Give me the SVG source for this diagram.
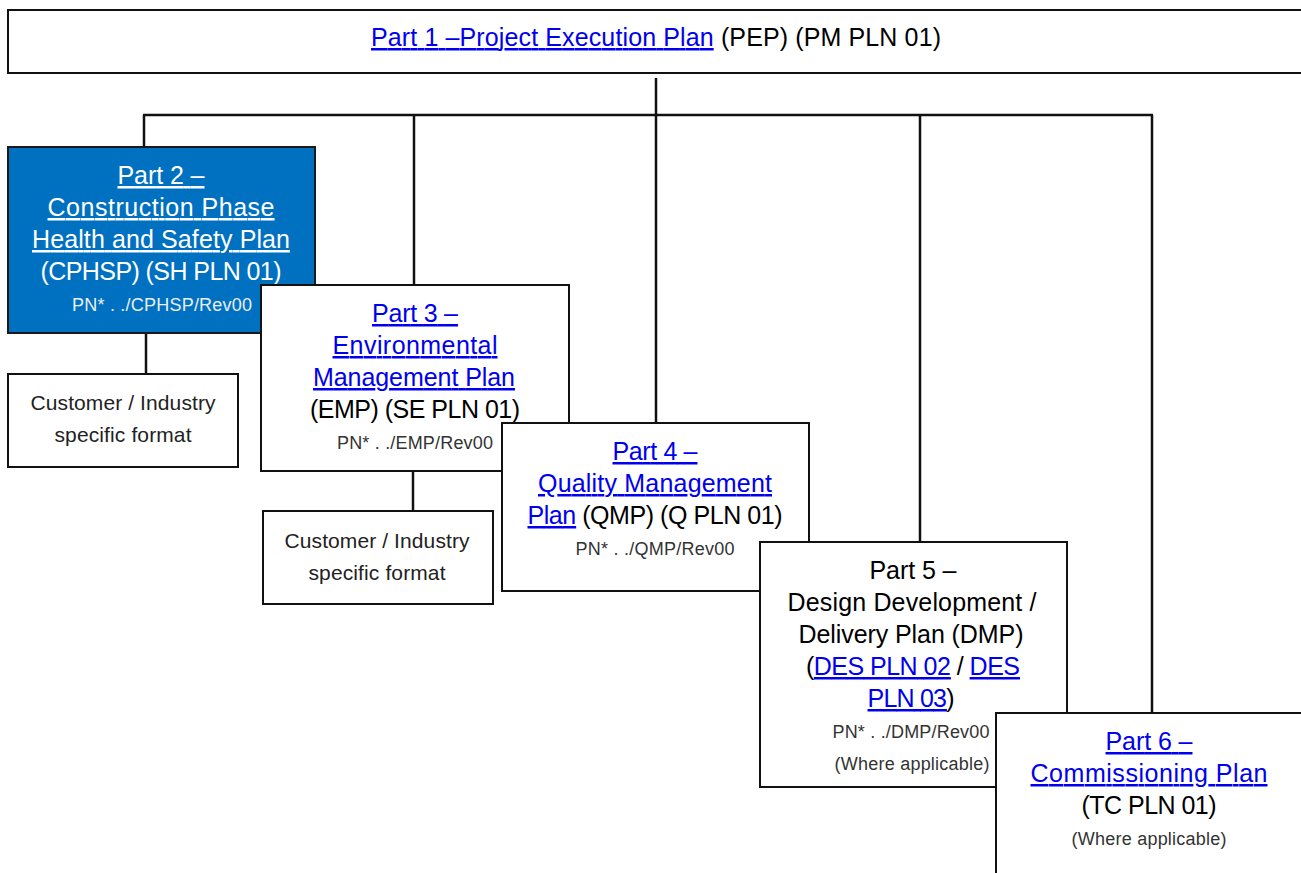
<svg xmlns="http://www.w3.org/2000/svg" width="1301" height="873" viewBox="0 0 1301 873">
<style>
.box{fill:#fff;stroke:#111;stroke-width:2}
.blue{fill:#0070C0;stroke:#1a1a1a;stroke-width:2}
.conn{stroke:#111;stroke-width:2.5;fill:none}
text{font-family:"Liberation Sans",Arial,sans-serif;text-anchor:middle}
.m{font-size:25px;fill:#000}
.s{font-size:18px;fill:#333}
.c{font-size:21px;fill:#222}
.lk{fill:#0000EE;text-decoration:underline}
.w{fill:#fff}
.wu{fill:#fff;text-decoration:underline}
</style>
<g id="part1">
<rect class="box" x="8" y="10" width="1300" height="63"/>
<text class="m" x="656" y="46" textLength="570" lengthAdjust="spacing"><tspan class="lk">Part 1 –Project Execution Plan</tspan> (PEP) (PM PLN 01)</text>
</g>
<g id="connectors">
<line class="conn" x1="656" y1="78" x2="656" y2="115"/>
<line class="conn" x1="143" y1="115" x2="1153" y2="115"/>
<line class="conn" x1="144" y1="115" x2="144" y2="148"/>
<line class="conn" x1="414" y1="115" x2="414" y2="286"/>
<line class="conn" x1="656" y1="115" x2="656" y2="424"/>
<line class="conn" x1="920" y1="115" x2="920" y2="543"/>
<line class="conn" x1="1152" y1="115" x2="1152" y2="714"/>
<line class="conn" x1="146" y1="333" x2="146" y2="375"/>
<line class="conn" x1="413" y1="471" x2="413" y2="512"/>
</g>
<g id="part2">
<rect class="blue" x="8" y="147" width="307" height="186"/>
<text class="m" x="161" y="184" textLength="87" lengthAdjust="spacing"><tspan class="wu">Part 2 –</tspan></text>
<text class="m" x="161" y="216" textLength="227" lengthAdjust="spacing"><tspan class="wu">Construction Phase</tspan></text>
<text class="m" x="161" y="248" textLength="258" lengthAdjust="spacing"><tspan class="wu">Health and Safety Plan</tspan></text>
<text class="m w" x="161" y="280" textLength="241" lengthAdjust="spacing">(CPHSP) (SH PLN 01)</text>
<text class="s w" x="162" y="311" textLength="180" lengthAdjust="spacing" style="fill:#e8eef5">PN* . ./CPHSP/Rev00</text>
</g>
<g id="customer1">
<rect class="box" x="8" y="374" width="230" height="93"/>
<text class="c" x="123" y="410" textLength="185" lengthAdjust="spacing">Customer / Industry</text>
<text class="c" x="123" y="442" textLength="137" lengthAdjust="spacing">specific format</text>
</g>
<g id="part3">
<rect class="box" x="261" y="285" width="308" height="186"/>
<text class="m" x="415" y="322" textLength="86" lengthAdjust="spacing"><tspan class="lk">Part 3 –</tspan></text>
<text class="m" x="415" y="354" textLength="165" lengthAdjust="spacing"><tspan class="lk">Environmental</tspan></text>
<text class="m" x="414" y="386" textLength="202" lengthAdjust="spacing"><tspan class="lk">Management Plan</tspan></text>
<text class="m" x="415" y="418" textLength="210" lengthAdjust="spacing">(EMP) (SE PLN 01)</text>
<text class="s" x="415" y="449" textLength="156" lengthAdjust="spacing">PN* . ./EMP/Rev00</text>
</g>
<g id="customer2">
<rect class="box" x="263" y="511" width="230" height="93"/>
<text class="c" x="377" y="548" textLength="185" lengthAdjust="spacing">Customer / Industry</text>
<text class="c" x="377" y="580" textLength="137" lengthAdjust="spacing">specific format</text>
</g>
<g id="part4">
<rect class="box" x="502" y="423" width="307" height="168"/>
<text class="m" x="655" y="460" textLength="85" lengthAdjust="spacing"><tspan class="lk">Part 4 –</tspan></text>
<text class="m" x="655" y="492" textLength="234" lengthAdjust="spacing"><tspan class="lk">Quality Management</tspan></text>
<text class="m" x="655" y="524" textLength="255" lengthAdjust="spacing"><tspan class="lk">Plan</tspan> (QMP) (Q PLN 01)</text>
<text class="s" x="655" y="555" textLength="159" lengthAdjust="spacing">PN* . ./QMP/Rev00</text>
</g>
<g id="part5">
<rect class="box" x="760" y="542" width="307" height="245"/>
<text class="m" x="913" y="579" textLength="87" lengthAdjust="spacing">Part 5 –</text>
<text class="m" x="912" y="611" textLength="249" lengthAdjust="spacing">Design Development /</text>
<text class="m" x="911" y="643" textLength="225" lengthAdjust="spacing">Delivery Plan (DMP)</text>
<text class="m" x="913" y="675" textLength="214" lengthAdjust="spacing">(<tspan class="lk">DES PLN 02</tspan> / <tspan class="lk">DES</tspan></text>
<text class="m" x="911" y="707" textLength="87" lengthAdjust="spacing"><tspan class="lk">PLN 03</tspan>)</text>
<text class="s" x="911" y="738" textLength="157" lengthAdjust="spacing">PN* . ./DMP/Rev00</text>
<text class="s" x="912" y="770" textLength="155" lengthAdjust="spacing">(Where applicable)</text>
</g>
<g id="part6">
<rect class="box" x="996" y="713" width="320" height="180"/>
<text class="m" x="1149" y="750" textLength="87" lengthAdjust="spacing"><tspan class="lk">Part 6 –</tspan></text>
<text class="m" x="1149" y="782" textLength="237" lengthAdjust="spacing"><tspan class="lk">Commissioning Plan</tspan></text>
<text class="m" x="1149" y="814" textLength="135" lengthAdjust="spacing">(TC PLN 01)</text>
<text class="s" x="1149" y="845" textLength="155" lengthAdjust="spacing">(Where applicable)</text>
</g>
</svg>
